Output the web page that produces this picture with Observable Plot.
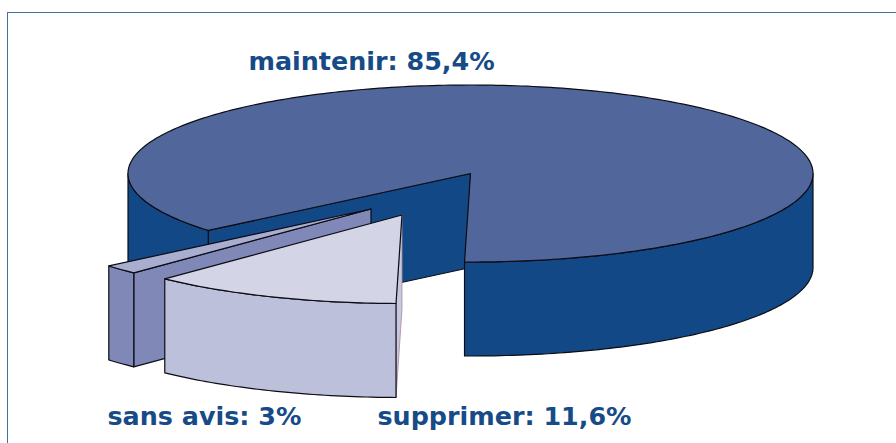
<!DOCTYPE html>
<html lang="fr"><head><meta charset="utf-8">
<script src="https://cdn.jsdelivr.net/npm/d3@7"></script>
<script src="https://cdn.jsdelivr.net/npm/@observablehq/plot@0.6"></script>
<style>
html,body{margin:0;padding:0;background:#fff;overflow:hidden}
#wrap{position:relative;width:896px;height:443px}
#frame{position:absolute;left:7px;top:12px;right:-4px;bottom:-4px;border:1.4px solid #3f6fa3}
#wrap svg{position:absolute;left:0;top:0;background:transparent}
</style></head><body>
<div id="wrap"><div id="frame"></div></div>
<script>
// Printed values
const categories = ["supprimer", "sans avis", "maintenir"];
const printedShares = [11.6, 3, 85.4];
// Shares as actually drawn on the picture (angular sweep, percent of the circle)
const drawnShares = [11.9, 1.7, 86.4];

const W = 896, H = 443;
const startAngle = 181, rx = 342.5, ry = 88.5, depth = 94;
const centers = {supprimer: [401.5, 214.5], "sans avis": [370.5, 208.5], maintenir: [470, 173]};
const colors = {
  maintenir: {top: "#51679c", wall: "#134886", cut: "#134886"},
  supprimer: {top: "#d3d5e6", wall: "#bdc0da", cut: "#c6c8df"},
  "sans avis": {top: "#a9aed0", wall: "#7f88b6", cut: "#7f88b6"}
};
const ink = "#0c0c14", textColor = "#164b87";

let a = startAngle;
const slices = categories.map((name, i) => {
  const from = a, to = a + drawnShares[i] * 3.6; a = to;
  return {name, from, to, c: centers[name], col: colors[name], label: `${name}: ${String(printedShares[i]).replace(".", ",")}%`};
});
const pt = (c, t, dz = 0) => {
  const r = t * Math.PI / 180;
  return {x: c[0] + rx * Math.sin(r), y: c[1] - ry * Math.cos(r) + dz};
};
const arc = (c, t0, t1, dz = 0) => {
  const n = Math.max(2, Math.ceil(Math.abs(t1 - t0))), out = [];
  for (let k = 0; k <= n; k++) out.push(pt(c, t0 + (t1 - t0) * k / n, dz));
  return out;
};
const ctr = (c, dz = 0) => ({x: c[0], y: c[1] + dz});
const closeRing = p => [...p, p[0]];
const poly = (pts, fill, strokeWidth = 1.2, stroke = ink) =>
  Plot.line(closeRing(pts), {x: "x", y: "y", fill, stroke, strokeWidth, curve: "linear", strokeLinejoin: "round"});
const wallFace = (c, t0, t1, fill) => poly([...arc(c, t0, t1), ...arc(c, t1, t0, depth)], fill);
const radialFace = (c, t, fill, stroke, sw) => poly([ctr(c), pt(c, t), pt(c, t, depth), ctr(c, depth)], fill, sw, stroke);
const topFace = (c, t0, t1, fill) => poly([ctr(c), ...arc(c, t0, t1)], fill);

const [sup, sans, mainSlice] = slices;
const marks = [
  // maintenir
  radialFace(mainSlice.c, mainSlice.from, mainSlice.col.cut),
  wallFace(mainSlice.c, mainSlice.from, 270, mainSlice.col.wall),
  wallFace(mainSlice.c, 450, mainSlice.to, mainSlice.col.wall),
  topFace(mainSlice.c, mainSlice.from, mainSlice.to, mainSlice.col.top),
  // sans avis
  radialFace(sans.c, sans.from, sans.col.cut),
  wallFace(sans.c, sans.from, sans.to, sans.col.wall),
  topFace(sans.c, sans.from, sans.to, sans.col.top),
  // supprimer
  radialFace(sup.c, sup.from, sup.col.cut, "#a98aa0", 0.8),
  wallFace(sup.c, sup.from, sup.to, sup.col.wall),
  topFace(sup.c, sup.from, sup.to, sup.col.top)
];

const labelAnchors = {maintenir: [248, 69], "sans avis": [107, 424], supprimer: [377, 424]};
const labels = slices.map(s => ({text: s.label, x: labelAnchors[s.name][0], y: labelAnchors[s.name][1]}));
marks.push(Plot.text(labels, {
  x: "x", y: "y", text: "text", textAnchor: "start", lineAnchor: "bottom",
  fill: textColor, fontSize: 25.4, fontWeight: 700, fontFamily: "'DejaVu Sans', sans-serif"
}));

const chart = Plot.plot({
  width: W, height: H, margin: 0,
  x: {domain: [0, W], range: [0, W], axis: null},
  y: {domain: [0, H], range: [0, H], axis: null},
  marks
});
document.getElementById("wrap").appendChild(chart);
</script>
</body></html>
